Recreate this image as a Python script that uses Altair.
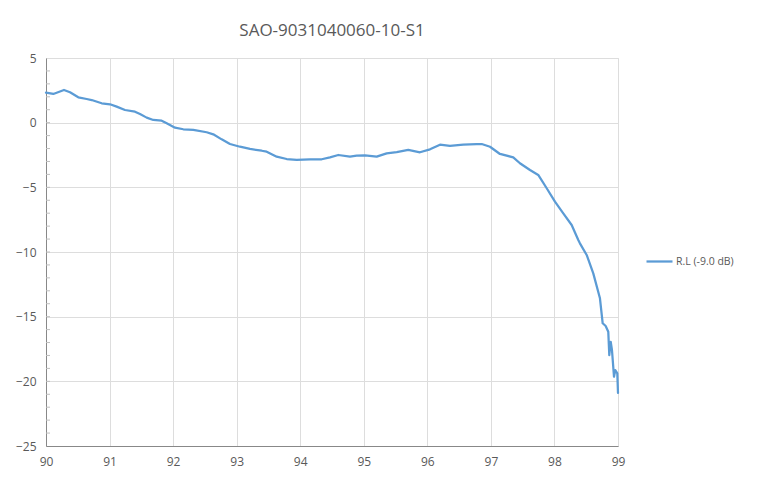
import altair as alt
import pandas as pd

chart_title = "SAO-9031040060-10-S1"
series_name = "R.L (-9.0 dB)"

freq = [90.00, 90.115, 90.283, 90.378, 90.508, 90.640, 90.719, 90.876, 91.007, 91.112,
        91.243, 91.400, 91.479, 91.584, 91.688, 91.820, 91.899, 92.030, 92.160, 92.318,
        92.528, 92.632, 92.764, 92.895, 93.052, 93.210, 93.394, 93.472, 93.630, 93.787,
        93.944, 94.154, 94.338, 94.468, 94.599, 94.783, 94.888, 95.019, 95.203, 95.360,
        95.518, 95.700, 95.884, 96.042, 96.199, 96.356, 96.565, 96.776, 96.855, 96.986,
        97.143, 97.352, 97.457, 97.615, 97.745, 97.878, 98.008, 98.139, 98.271, 98.375,
        98.401, 98.507, 98.611, 98.716, 98.759, 98.806, 98.847, 98.863, 98.885, 98.905,
        98.937, 98.957, 98.989, 99.000]
rl = [2.32, 2.22, 2.53, 2.35, 1.96, 1.83, 1.75, 1.50, 1.42, 1.24,
      0.98, 0.85, 0.67, 0.39, 0.21, 0.15, -0.05, -0.39, -0.51, -0.56,
      -0.74, -0.90, -1.29, -1.65, -1.86, -2.03, -2.17, -2.24, -2.63, -2.81,
      -2.88, -2.83, -2.83, -2.68, -2.50, -2.63, -2.55, -2.52, -2.63, -2.37,
      -2.27, -2.11, -2.29, -2.06, -1.70, -1.80, -1.70, -1.65, -1.65, -1.86,
      -2.42, -2.68, -3.14, -3.66, -4.04, -5.07, -6.11, -7.01, -7.91, -9.07,
      -9.33, -10.23, -11.65, -13.58, -15.51, -15.72, -16.16, -17.97, -16.94, -17.58,
      -19.64, -19.13, -19.38, -20.90]

x_ticks = list(range(90, 100))
y_ticks = [-25, -20, -15, -10, -5, 0, 5]
y_minor = list(range(-24, 5))

df = pd.DataFrame({"freq": freq, "rl": rl, "series": series_name})
minor = pd.DataFrame({"v": y_minor})

FONT = "Open Sans"
TXT = "#595959"

xscale = alt.Scale(domain=[90, 99], nice=False, zero=False)
yscale = alt.Scale(domain=[-25, 5], nice=False, zero=False)
yaxis = alt.Axis(values=y_ticks, title=None, ticks=False, labelPadding=10, format="d",
                 labelFlush=False, labelFont=FONT, labelFontSize=12, labelColor=TXT)

line = alt.Chart(df).mark_line(strokeWidth=2.25, strokeJoin="round", strokeCap="round").encode(
    x=alt.X("freq:Q", scale=xscale,
            axis=alt.Axis(values=x_ticks, title=None, ticks=False, labelPadding=10, format="d",
                          labelFlush=False, labelFont=FONT, labelFontSize=12, labelColor=TXT)),
    y=alt.Y("rl:Q", scale=yscale, axis=yaxis),
    color=alt.Color("series:N", scale=alt.Scale(range=["#5b9bd5"]),
                    legend=alt.Legend(orient="none", legendX=599, legendY=189, title=None,
                                      symbolType="stroke", symbolSize=676, symbolStrokeWidth=2.25,
                                      labelFont=FONT, labelFontSize=10.5, labelColor=TXT,
                                      padding=0, labelOffset=2)),
)

ticks = alt.Chart(minor).mark_rule(color="#bfbfbf", strokeWidth=1).encode(
    y=alt.Y("v:Q", scale=yscale, axis=yaxis),
    x=alt.value(0),
    x2=alt.value(4),
)

chart = alt.layer(line, ticks).properties(
    width=572,
    height=388,
    autosize="none",
    padding={"left": 38, "top": 50, "right": 138, "bottom": 44},
    title=alt.Title(chart_title, font=FONT, fontSize=17, color=TXT, fontWeight="normal",
                    anchor="middle", baseline="alphabetic", offset=-1),
).configure_axis(
    gridColor="#d9d9d9", domainColor="#bfbfbf", grid=True,
).configure_view(stroke=None).configure(background="white")

chart.save("out.html", embed_options={"renderer": "svg", "actions": False})
